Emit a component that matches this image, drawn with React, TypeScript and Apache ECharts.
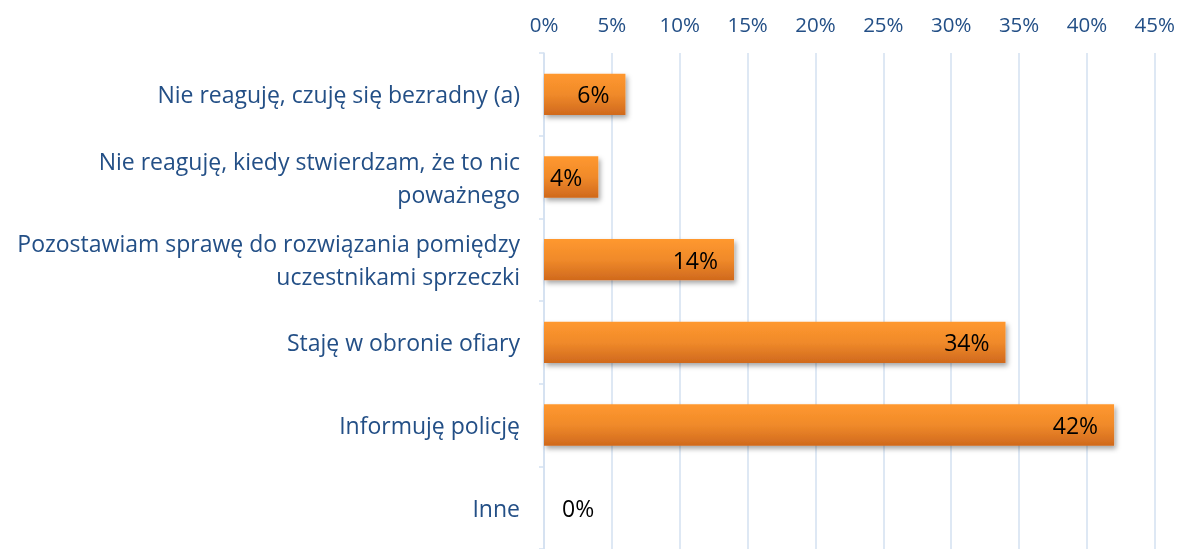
import React, { useEffect, useRef } from "react";
import * as echarts from "echarts";

const categories: string[] = [
  "Nie reaguję, czuję się bezradny (a)",
  "Nie reaguję, kiedy stwierdzam, że to nic\npoważnego",
  "Pozostawiam sprawę do rozwiązania pomiędzy\nuczestnikami sprzeczki",
  "Staję w obronie ofiary",
  "Informuję policję",
  "Inne",
];
const values: number[] = [6, 4, 14, 34, 42, 0];
const axisMin = 0;
const axisMax = 45;
const axisStep = 5;

const FONT = "'Open Sans', sans-serif";

export default function App() {
  const ref = useRef<HTMLDivElement>(null);
  useEffect(() => {
    if (!ref.current) return;
    const chart = echarts.init(ref.current, undefined, { renderer: "svg" });
    const barColor = new echarts.graphic.LinearGradient(0, 0, 0, 1, [
      { offset: 0, color: "#ff982f" },
      { offset: 0.5, color: "#f08a2a" },
      { offset: 1, color: "#d0691d" },
    ]);
    chart.setOption({
      animation: false,
      grid: { left: 544, right: 22, top: 53, bottom: -2, containLabel: false },
      xAxis: {
        type: "value",
        position: "top",
        min: axisMin,
        max: axisMax,
        interval: axisStep,
        axisLine: { show: false },
        axisTick: { show: false },
        splitLine: { show: true, lineStyle: { color: "#d3e0f0", width: 1.5 } },
        axisLabel: {
          formatter: (v: number) => `${v}%`,
          color: "#234f86",
          fontFamily: FONT,
          fontSize: 20.5,
          margin: 19,
        },
      },
      yAxis: {
        type: "category",
        data: categories,
        inverse: true,
        axisLine: { show: true, lineStyle: { color: "#d3e0f0", width: 1.5 } },
        axisTick: { show: true, length: 5, lineStyle: { color: "#d3e0f0", width: 1.5 } },
        axisLabel: {
          color: "#234f86",
          fontFamily: FONT,
          fontSize: 23,
          lineHeight: 33,
          margin: 24,
          align: "right",
        },
      },
      series: [
        {
          type: "bar",
          barWidth: "50%",
          data: values.map((v) =>
            v === 0
              ? { value: v, label: { position: "right", distance: 18 } }
              : { value: v }
          ),
          itemStyle: {
            color: barColor,
            shadowBlur: 5,
            shadowOffsetX: 2,
            shadowOffsetY: 3,
            shadowColor: "rgba(0,0,0,0.35)",
          },
          label: {
            show: true,
            position: "insideRight",
            distance: 16,
            formatter: (p: any) => `${p.value}%`,
            color: "#000",
            fontFamily: FONT,
            fontSize: 23,
          },
        },
      ],
    });
    return () => chart.dispose();
  }, []);
  return (
    <div
      ref={ref}
      style={{ position: "fixed", left: 0, top: 0, width: 1178, height: 549 }}
    />
  );
}
